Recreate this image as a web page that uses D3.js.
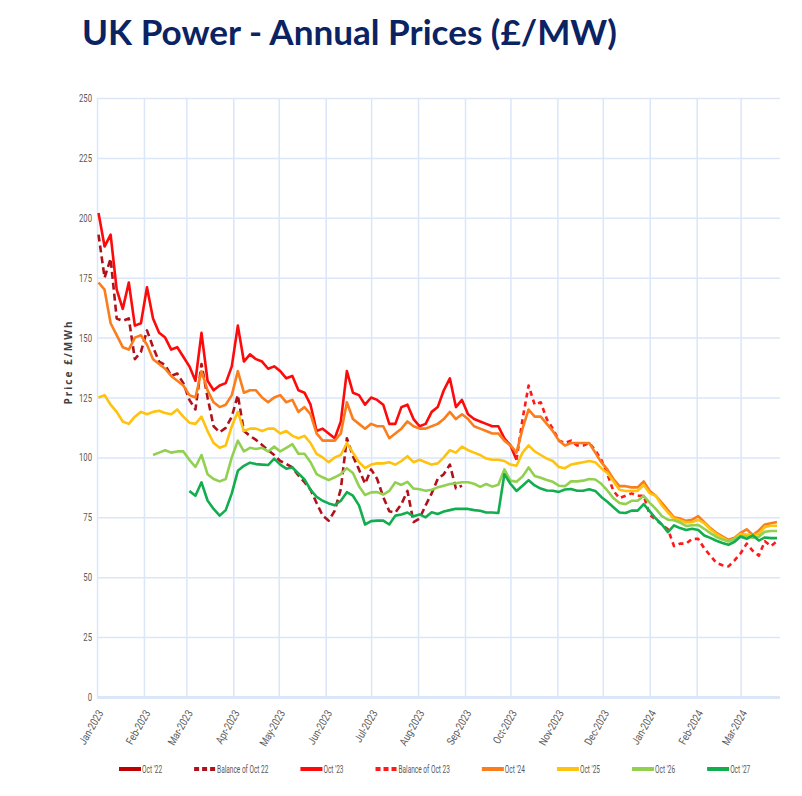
<!DOCTYPE html>
<html>
<head>
<meta charset="utf-8">
<script src="https://cdn.jsdelivr.net/npm/d3@7"></script>
<style>
  body { margin: 0; background: #fff; }
</style>
</head>
<body>
<script>
const WIDTH = 802
const HEIGHT = 796
const LEFT = 97
const RIGHT = 780
const TOP = 98
const BOTTOM = 697

// one sample every 4 days
const DATES = [
  "2023-01-02","2023-01-06","2023-01-10","2023-01-14","2023-01-18","2023-01-22","2023-01-26","2023-01-30",
  "2023-02-03","2023-02-07","2023-02-11","2023-02-15","2023-02-19","2023-02-23","2023-02-27",
  "2023-03-03","2023-03-07","2023-03-11","2023-03-15","2023-03-19","2023-03-23","2023-03-27","2023-03-31",
  "2023-04-04","2023-04-08","2023-04-12","2023-04-16","2023-04-20","2023-04-24","2023-04-28",
  "2023-05-02","2023-05-06","2023-05-10","2023-05-14","2023-05-18","2023-05-22","2023-05-26","2023-05-30",
  "2023-06-03","2023-06-07","2023-06-11","2023-06-15","2023-06-19","2023-06-23","2023-06-27",
  "2023-07-01","2023-07-05","2023-07-09","2023-07-13","2023-07-17","2023-07-21","2023-07-25","2023-07-29",
  "2023-08-02","2023-08-06","2023-08-10","2023-08-14","2023-08-18","2023-08-22","2023-08-26","2023-08-30",
  "2023-09-03","2023-09-07","2023-09-11","2023-09-15","2023-09-19","2023-09-23","2023-09-27",
  "2023-10-01","2023-10-05","2023-10-09","2023-10-13","2023-10-17","2023-10-21","2023-10-25","2023-10-29",
  "2023-11-02","2023-11-06","2023-11-10","2023-11-14","2023-11-18","2023-11-22","2023-11-26","2023-11-30",
  "2023-12-04","2023-12-08","2023-12-12","2023-12-16","2023-12-20","2023-12-24","2023-12-28",
  "2024-01-01","2024-01-05","2024-01-09","2024-01-13","2024-01-17","2024-01-21","2024-01-25","2024-01-29",
  "2024-02-02","2024-02-06","2024-02-10","2024-02-14","2024-02-18","2024-02-22","2024-02-26",
  "2024-03-01","2024-03-05","2024-03-09","2024-03-13","2024-03-17","2024-03-21","2024-03-25"
]

// Oct '22 has no prices inside this window
const OCT_22 = []

const BAL_OCT_22 = [
  193,175,183,158,157,158,141,144,153,146,
  140,138.6,134,135,131,124,120,139,125,113,
  110.5,112.3,117,126,111,109,107.3,105.2,103,101,
  98.5,97.3,95.8,92.5,89.7,86.5,81,75.7,73.6,77.8,
  86.8,108,100.5,95,89,95,91,83.5,77.5,77,
  80.5,86,73,74.5,80,85,91,93,97,87,
  88.2
]

const OCT_23 = [
  202,188,193,170,162,173,155,156,171,158,
  152,150,145,146,142,138,132,152,132,128,
  130,131,138,155,140,143,141,140,137,138,
  136,133,134,128,127,122,111,112,110,108,
  115,136,127,126,122,125,124,122,114,114,
  121,122,116,113,114,119,121,128,133,121,
  124,118,116,115,114,113,113,108,105,99
]

const BAL_OCT_23 = [
  null,null,null,null,null,null,null,null,null,null,
  null,null,null,null,null,null,null,null,null,null,
  null,null,null,null,null,null,null,null,null,null,
  null,null,null,null,null,null,null,null,null,null,
  null,null,null,null,null,null,null,null,null,null,
  null,null,null,null,null,null,null,null,null,null,
  null,null,null,null,null,null,null,null,null,
  99,116,130,122,123,116,112,107,106,107,
  105,105,106,103,99,93,86,83,84,85,
  84,84,76,74,72,70,63,64,64,66,
  66,62,59,56,55,54.5,57,60,64,61,
  59,65,63,65
]

const OCT_24 = [
  173,170,156,151,146,145,150,151,147,141,
  139,137,134,132,130,126,125,136,128,123,
  121,122,126,136,127,128,128,125,123,125,
  126,123,124,119,121,118,110,107,107,107,
  110,123,116,114,112,114,113,113,108,110,
  112,115,113,112,112,113,114,116,119,116,
  118,116,113,112,111,110,110,107,105,102,
  112,120,117,117,114,111,107,105,106,106,
  106,106,102,98,95,91,88,88,87.5,87.5,
  90,86,84,81,78,75,74.5,73.5,74,75.5,
  73,70.5,68.5,67,65.6,66.5,68.5,70,67.6,69.5,
  72,72.5,73
]

const OCT_25 = [
  125,126,122,119,115,114,117,119,118,119,
  119.5,118.5,118,120,117,114.5,114,117,111,106,
  104,105,113,119,111,112,112,111,112,112,
  110,111,109,108,109,106,101.5,100,98,100,
  101,106,102,98,95.5,97,97.5,97.5,98,97,
  98.5,100.5,98,99,98,97,97.5,100,103,102,
  104.5,103,102,101,99.5,99,99,98.5,97,96.5,
  102,105,102.5,101,99.5,98.5,96,95.5,97,97.5,
  98,98.5,98,95.5,93.5,90,86.5,86,86,86,
  88.5,85,84,80,77,74.5,73.8,72.8,73,74,
  72.5,70,68,66.5,65,66,68,67.8,67.5,68,
  71,71.5,71.5
]

const OCT_26 = [
  null,null,null,null,null,null,null,null,null,
  101,102,103,102,102.5,102.5,99,96,101,93,
  91,90,91,100,107,102.5,104,103.5,104,102.5,
  104.5,102.5,104,105.5,101.5,101.5,98,93,91.7,90.5,
  91.7,93,95.5,93.5,88,84.3,85.4,85.5,84.5,86,
  89.6,88.5,89.8,87,86.7,86.1,86.5,87.5,88.2,88.9,
  89.2,89.6,89.6,89,87.7,88.9,87.8,88.6,95,90.3,
  89.8,92,95.8,92.2,91.5,90.6,89.8,88.2,88,90,
  90,90.3,91,90.8,89,86.2,83,81,80.5,81.9,
  81.9,84,81,78.5,75.5,74,73.8,72.8,71.4,71.7,
  71.8,70.2,68.4,66.8,65.7,64.9,66,67.2,67,66.5,
  66.9,69,69.3,69.3
]

const OCT_27 = [
  null,null,null,null,null,null,null,null,null,null,
  null,null,null,null,null,
  86,84,89.6,82,78.5,75.7,78,85,94.4,96.5,
  97.8,97.2,97,96.8,99.5,97,95.3,95.8,93.3,90.8,
  86.5,83.5,81.9,80.8,80,81.9,85.5,84,80,72,
  73.4,73.6,73.6,72,75.7,76.2,77,75.4,76.2,75,
  77.1,76.4,77.4,78,78.6,78.5,78.5,78,77.7,77,
  77,76.8,93,89,86,88.2,90.5,88.3,87,86.2,
  86.1,85.6,86.6,86.8,86.1,86.1,86.7,86,83.5,81.5,
  79.2,77,76.8,77.8,77.8,80.5,77.5,74.5,72,68.8,
  71.6,70.5,69.7,70.2,69.7,67.4,66.4,65.2,64.3,63.5,
  64.8,67,66,67.5,65.3,66.6,66.3,66.3
]

const SERIES_NAMES = ["Oct '22", "Balance of Oct 22", "Oct '23", "Balance of Oct 23", "Oct '24", "Oct '25", "Oct '26", "Oct '27"]
const SERIES_VALUES = [OCT_22, BAL_OCT_22, OCT_23, BAL_OCT_23, OCT_24, OCT_25, OCT_26, OCT_27]

const Y_TICKS = [0, 25, 50, 75, 100, 125, 150, 175, 200, 225, 250]
const X_TICKS = ["2023-01-01","2023-02-01","2023-03-01","2023-04-01","2023-05-01","2023-06-01","2023-07-01",
  "2023-08-01","2023-09-01","2023-10-01","2023-11-01","2023-12-01","2024-01-01","2024-02-01","2024-03-01"]

const COLORS = ["#c00000", "#b0121b", "#ff0a0a", "#ff1a1a", "#fb7d1c", "#ffc20e", "#92d050", "#12ad4f"]
const DASHES = [null, "7,4", null, "5,4", null, null, null, null]
const GRID = "#dbe6f9"
const SMALL_FONT = 'Roboto, sans-serif'

const parse = d3.timeParse("%Y-%m-%d")
const dates = DATES.map(parse)

// the picture uses a very narrow font, so squeeze the glyphs
function squeeze(sel, k) {
    sel.each(function () {
        const w = this.getComputedTextLength()
        d3.select(this)
            .attr('textLength', w * k)
            .attr('lengthAdjust', 'spacingAndGlyphs')
    })
}

const svg = d3.select('body')
    .append('svg')
    .attr('width', WIDTH)
    .attr('height', HEIGHT)

// title, sized to the width it has in the picture
const title = svg.append('text')
    .text('UK Power - Annual Prices (£/MW)')
    .attr('x', 82)
    .attr('y', 45)
    .attr('fill', '#0b2263')
    .attr('font-family', 'Lato, "Open Sans", sans-serif')
    .attr('font-weight', 'bold')
    .attr('font-size', 34)
const tw = title.node().getComputedTextLength()
title.attr('font-size', 34 * 535 / tw)

const x = d3.scaleTime()
    .domain([parse("2023-01-01"), parse("2024-03-27")])
    .range([LEFT, RIGHT])

const y = d3.scaleLinear()
    .domain([0, 250])
    .range([BOTTOM, TOP])

// vertical grid + month labels
const gx = svg.append('g')
    .attr('transform', `translate(0, ${BOTTOM})`)
    .call(d3.axisBottom(x)
        .tickValues(X_TICKS.map(parse))
        .tickSize(-(BOTTOM - TOP))
        .tickFormat(d3.timeFormat("%b-%Y")))
gx.attr('font-family', SMALL_FONT)
gx.select('.domain').remove()
gx.selectAll('line').attr('stroke', GRID).attr('stroke-width', 1.5)
gx.selectAll('text')
    .attr('fill', '#595959')
    .attr('font-size', 11)
    .attr('text-anchor', 'end')
    .attr('y', 0)
    .attr('dy', '0.35em')
    .attr('transform', 'translate(3, 14) rotate(-60)')
    .call(squeeze, 0.82)

// horizontal grid + price labels
const gy = svg.append('g')
    .attr('transform', `translate(${LEFT}, 0)`)
    .call(d3.axisLeft(y)
        .tickValues(Y_TICKS)
        .tickSize(-(RIGHT - LEFT))
        .tickPadding(5))
gy.attr('font-family', SMALL_FONT)
gy.select('.domain').remove()
gy.selectAll('line')
    .attr('stroke', GRID)
    .attr('stroke-width', d => d === 0 ? 3 : 1.5)
gy.selectAll('text')
    .attr('fill', '#595959')
    .attr('font-size', 11)
    .call(squeeze, 0.7)

svg.append('text')
    .text('Price £/MWh')
    .attr('transform', 'translate(72, 362) rotate(-90)')
    .attr('text-anchor', 'middle')
    .attr('fill', '#404040')
    .attr('font-family', '"Open Sans", sans-serif')
    .attr('font-weight', 'bold')
    .attr('font-size', 10)
    .attr('letter-spacing', 2)

const line = d3.line()
    .defined(d => d.v != null)
    .x(d => x(d.date))
    .y(d => y(d.v))

const series = SERIES_NAMES.map((name, i) => ({
    name,
    color: COLORS[i],
    dash: DASHES[i],
    points: dates.map((date, j) => ({ date, v: SERIES_VALUES[i][j] }))
}))

svg.append('g')
    .selectAll('path')
    .data(series)
    .enter()
    .append('path')
    .attr('d', d => line(d.points))
    .attr('fill', 'none')
    .attr('stroke', d => d.color)
    .attr('stroke-width', 2.6)
    .attr('stroke-dasharray', d => d.dash)
    .attr('stroke-linejoin', 'round')

// legend, laid out in one centred row
const legend = svg.append('g').attr('font-family', SMALL_FONT)
const items = legend.selectAll('g')
    .data(series)
    .enter()
    .append('g')

items.append('line')
    .attr('x1', 0)
    .attr('x2', 22)
    .attr('stroke', d => d.color)
    .attr('stroke-width', 4)
    .attr('stroke-dasharray', d => d.dash ? '5,3' : null)

items.append('text')
    .text(d => d.name)
    .attr('x', 23)
    .attr('dy', '0.35em')
    .attr('fill', '#595959')
    .attr('font-size', 10.5)
    .call(squeeze, 0.62)

const widths = []
items.each(function () { widths.push(23 + d3.select(this).select('text').attr('textLength') * 1) })
const GAP = 32
const total = d3.sum(widths) + GAP * (widths.length - 1)
let cx = 119
items.attr('transform', (d, i) => {
    const t = `translate(${cx}, 769)`
    cx += widths[i] + GAP
    return t
})
</script>
</body>
</html>
